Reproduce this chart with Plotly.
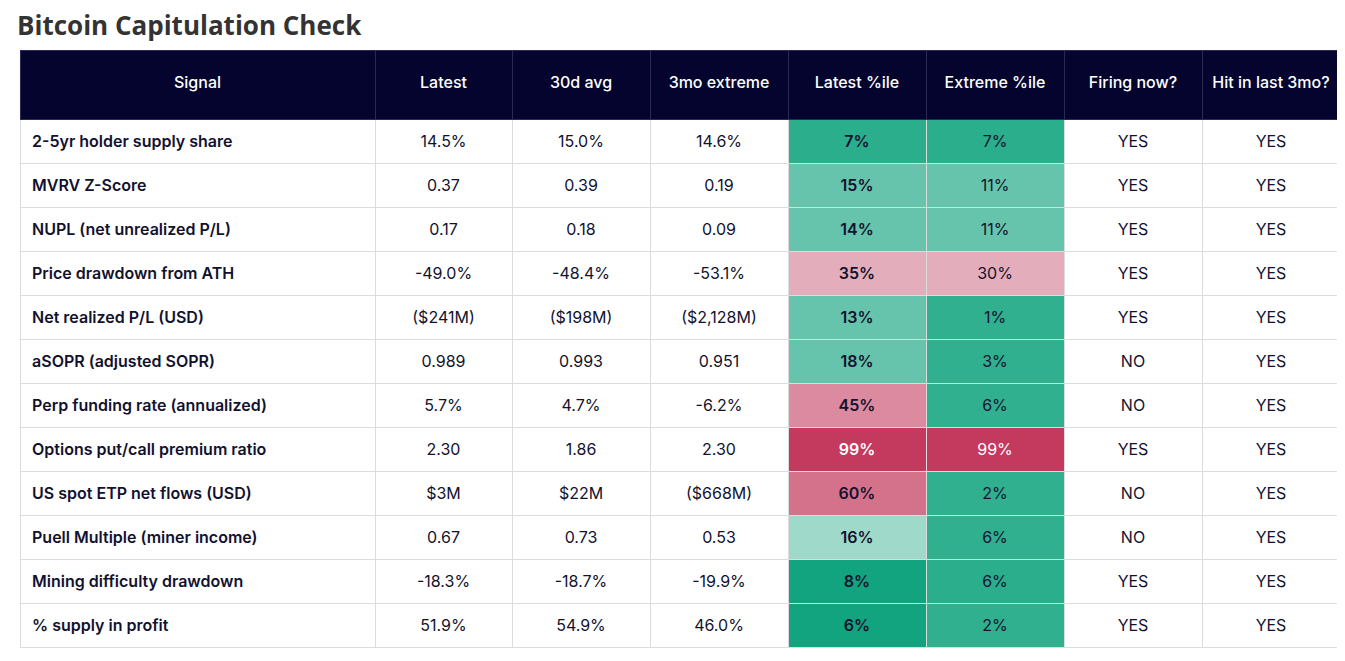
import plotly.graph_objects as go

# the page body adds an 8px margin, so the figure is drawn 8px in from the window edge
W, H = 1337, 653
OFF = 8

columns = ["Signal", "Latest", "30d avg", "3mo extreme", "Latest %ile",
           "Extreme %ile", "Firing now?", "Hit in last 3mo?"]

signals = [
    "2-5yr holder supply share", "MVRV Z-Score", "NUPL (net unrealized P/L)",
    "Price drawdown from ATH", "Net realized P/L (USD)", "aSOPR (adjusted SOPR)",
    "Perp funding rate (annualized)", "Options put/call premium ratio",
    "US spot ETP net flows (USD)", "Puell Multiple (miner income)",
    "Mining difficulty drawdown", "% supply in profit",
]
latest = ["14.5%", "0.37", "0.17", "-49.0%", "($241M)", "0.989", "5.7%", "2.30",
          "$3M", "0.67", "-18.3%", "51.9%"]
avg_30d = ["15.0%", "0.39", "0.18", "-48.4%", "($198M)", "0.993", "4.7%", "1.86",
           "$22M", "0.73", "-18.7%", "54.9%"]
extreme_3mo = ["14.6%", "0.19", "0.09", "-53.1%", "($2,128M)", "0.951", "-6.2%", "2.30",
               "($668M)", "0.53", "-19.9%", "46.0%"]
latest_pct = [7, 15, 14, 35, 13, 18, 45, 99, 60, 16, 8, 6]
extreme_pct = [7, 11, 11, 30, 1, 3, 6, 99, 2, 6, 6, 2]
firing_now = ["YES", "YES", "YES", "YES", "YES", "NO", "NO", "YES", "NO", "NO", "YES", "YES"]
hit_3mo = ["YES"] * 12

# cell shading for the two percentile columns
latest_fill = ["#2bae8c", "#66c4ac", "#66c4ac", "#e4adbb", "#66c4ac", "#66c4ac",
               "#dc8aa0", "#c43a5e", "#d5728b", "#9ed9c9", "#12a37f", "#12a37f"]
extreme_fill = ["#2bae8c", "#66c4ac", "#66c4ac", "#e4adbb", "#31b08f", "#31b08f",
                "#31b08f", "#c43a5e", "#31b08f", "#31b08f", "#2bae8c", "#31b08f"]

ink = "#12122e"
clear = "rgba(0,0,0,0)"
font_family = "Inter, Arial, sans-serif"
n = len(signals)
col_w = [355, 137, 138, 138, 138, 138, 138, 138]
x_dom = [(20 - OFF) / W, (1340 - OFF) / W]
top, header_h, row_h = 50, 69, 44
text_top = 68  # plotly tables top-align text, so the text layer starts lower


def txt_color(p):
    return "white" if p >= 90 else ink


cell_values = [
    [" " + s for s in signals], latest, avg_30d, extreme_3mo,
    [f"{p}%" for p in latest_pct], [f"{p}%" for p in extreme_pct],
    firing_now, hit_3mo,
]
fills = [["white"] * n] * 4 + [latest_fill, extreme_fill] + [["white"] * n] * 2
font_colors = [[ink] * n] * 4 + [[txt_color(p) for p in latest_pct],
                                 [txt_color(p) for p in extreme_pct]] + [[ink] * n] * 2

fig = go.Figure()

# background table: header, fills and grid lines
fig.add_trace(go.Table(
    domain=dict(x=x_dom, y=[0, 1 - (top - OFF) / H]),
    columnwidth=col_w,
    header=dict(
        values=[""] * len(columns),
        fill_color="#04042e",
        line=dict(color="#2a2a52", width=1),
        height=header_h,
    ),
    cells=dict(
        values=[[""] * n for _ in columns],
        fill_color=fills,
        line=dict(color="#dcdcdc", width=1),
        height=row_h,
    ),
))

# text layer, nudged down so the labels sit in the middle of each row
fig.add_trace(go.Table(
    domain=dict(x=x_dom, y=[0, 1 - (text_top - OFF) / H]),
    columnwidth=col_w,
    header=dict(
        values=columns,
        fill_color=clear,
        line=dict(color=clear, width=0),
        font=dict(family=font_family, size=16, color="white", weight=500),
        align="center",
        height=top + header_h + 8 - text_top,
    ),
    cells=dict(
        values=cell_values,
        fill_color=clear,
        line=dict(color=clear, width=0),
        font=dict(family=font_family, size=16, color=font_colors,
                  weight=[600, 400, 400, 400, 600, 400, 400, 400]),
        align=["left"] + ["center"] * 7,
        height=row_h,
    ),
))

fig.add_annotation(
    text="<b>Bitcoin Capitulation Check</b>",
    xref="paper", yref="paper", x=(16 - OFF) / W, y=1 - (25 - OFF) / H,
    xanchor="left", yanchor="middle", showarrow=False, borderpad=0,
    font=dict(family="Open Sans, sans-serif", size=26, color="#333333"),
)

fig.update_layout(
    width=W, height=H,
    margin=dict(l=0, r=0, t=0, b=0),
    paper_bgcolor="white",
)

fig.write_html("out.html")
